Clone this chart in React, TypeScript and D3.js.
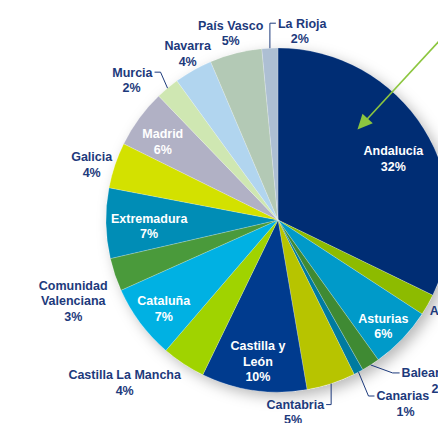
import React from "react";
import * as d3 from "d3";

const regions = ["Andalucía","Aragón","Asturias","Baleares","Canarias","Cantabria","Castilla y León","Castilla La Mancha","Cataluña","Comunidad Valenciana","Extremadura","Galicia","Madrid","Murcia","Navarra","País Vasco","La Rioja"];
const shares = [32.2,2.0,5.9,1.7,0.9,4.6,9.9,4.1,7.0,3.1,6.6,4.3,5.5,2.2,3.6,4.9,1.5];
const pctLabels = ["32%","2%","6%","2%","1%","5%","10%","4%","7%","3%","7%","4%","6%","2%","4%","5%","2%"];
const labelLines = [["Andalucía"],["Aragón"],["Asturias"],["Baleares"],["Canarias"],["Cantabria"],["Castilla y","León"],["Castilla La Mancha"],["Cataluña"],["Comunidad","Valenciana"],["Extremadura"],["Galicia"],["Madrid"],["Murcia"],["Navarra"],["País Vasco"],["La Rioja"]];
const colors = ["#002d74","#8dbb00","#009ac9","#3f8a33","#007b9f","#b7c400","#003b8e","#a0d300","#00b1e3","#4a9a3b","#008db6","#d3e100","#b1b1c5","#cfe7b2","#b1d5ef","#b3c9b5","#adbfd3"];

// label layout: polar radius factor and angle shift (deg), or leader
type Lay = { r: number; da?: number; inside?: boolean; leader?: { ex: number; ey: number; hx: number; anchor: string; pdx: number } };
const layout: Lay[] = [
  { r: 0.76, da: 4, inside: true },
  { r: 1.16, da: 0 },
  { r: 0.87, da: 1.5, inside: true },
  { r: 1, leader: { ex: 22, ey: 8, hx: 7, anchor: "start", pdx: 39 } },
  { r: 1, leader: { ex: 10, ey: 24, hx: 6, anchor: "start", pdx: 29 } },
  { r: 1, leader: { ex: 0, ey: 21, hx: -5, anchor: "end", pdx: -31 } },
  { r: 0.83, da: 0, inside: true },
  { r: 1.3, da: 10 },
  { r: 0.84, da: -1, inside: true },
  { r: 1.28, da: -3 },
  { r: 0.75, da: -1.6, inside: true },
  { r: 1.13, da: -2 },
  { r: 0.81, da: -2, inside: true },
  { r: 1, leader: { ex: -7, ey: -16, hx: -6, anchor: "end", pdx: -21 } },
  { r: 1.1, da: 1 },
  { r: 1.12, da: 0 },
  { r: 1, leader: { ex: 0, ey: -25, hx: 6, anchor: "start", pdx: 22 } },
];

const W = 438, H = 423;
const cx = 278, cy = 220, R = 172;
const textColor = "#1d3a7c";
const fs = 12.5, lh = 15.5;

export default function App() {
  const pie = d3.pie<number>().sort(null).value((d) => d);
  const arcs = pie(shares);
  const arc = d3.arc<d3.PieArcDatum<number>>().innerRadius(0).outerRadius(R);
  const polar = (deg: number, r: number): [number, number] => {
    const a = (deg * Math.PI) / 180;
    return [r * Math.sin(a), -r * Math.cos(a)];
  };
  const [tx, ty] = polar(41.3, R * 0.7);
  const [sx, sy] = polar(42, R * 1.4);
  const ang = Math.atan2(ty - sy, tx - sx);
  const ah = 15, aw = 7;
  const head = [
    [tx, ty],
    [tx - ah * Math.cos(ang) + aw * Math.sin(ang), ty - ah * Math.sin(ang) - aw * Math.cos(ang)],
    [tx - ah * Math.cos(ang) - aw * Math.sin(ang), ty - ah * Math.sin(ang) + aw * Math.cos(ang)],
  ];
  return (
    <svg width={W} height={H} style={{ position: "absolute", left: 0, top: 0 }} fontFamily="'Liberation Sans', Arial, sans-serif" fontWeight="bold" fontSize={fs}>
      <defs>
        <filter id="sh" x="-30%" y="-30%" width="160%" height="160%">
          <feDropShadow dx="5" dy="5" stdDeviation="7" floodColor="#000" floodOpacity="0.28" />
        </filter>
      </defs>
      <rect width={W} height={H} fill="#fff" />
      <g transform={`translate(${cx},${cy})`}>
        <circle r={R} fill="#fff" filter="url(#sh)" />
        {arcs.map((a, i) => (
          <path key={i} d={arc(a) || ""} fill={colors[i]} stroke="#fff" strokeWidth={0.4} strokeOpacity={0.5} />
        ))}
        {arcs.map((a, i) => {
          const L = layout[i];
          const mid = ((a.startAngle + a.endAngle) / 2) * 180 / Math.PI;
          const lines = [...labelLines[i], pctLabels[i]];
          const fill = L.inside ? "#fff" : textColor;
          if (L.leader) {
            const [px, py] = polar(mid, R);
            const ex = px + L.leader.ex, ey = py + L.leader.ey;
            const hx = ex + L.leader.hx;
            const name = labelLines[i][0];
            const anchorStart = L.leader.anchor === "start";
            const tX = hx + (anchorStart ? 2 : -2);
            return (
              <g key={"l" + i}>
                <polyline points={`${px},${py} ${ex},${ey} ${hx},${ey}`} fill="none" stroke={textColor} strokeWidth={1} />
                <text x={tX} y={ey} dy="0.35em" textAnchor={L.leader.anchor} fill={fill}>{name}</text>
                <text x={tX + L.leader.pdx} y={ey + lh} dy="0.35em" textAnchor="middle" fill={fill}>{pctLabels[i]}</text>
              </g>
            );
          }
          const [lx, ly] = polar(mid + (L.da || 0), R * L.r);
          const y0 = ly - ((lines.length - 1) * lh) / 2;
          return (
            <text key={"l" + i} textAnchor="middle" fill={fill}>
              {lines.map((t, j) => (
                <tspan key={j} x={lx} y={y0 + j * lh} dy="0.35em">{t}</tspan>
              ))}
            </text>
          );
        })}
        <line x1={sx} y1={sy} x2={tx - 10 * Math.cos(ang)} y2={ty - 10 * Math.sin(ang)} stroke="#8cc63f" strokeWidth={1.6} />
        <polygon points={head.map((p) => p.join(",")).join(" ")} fill="#8cc63f" />
      </g>
    </svg>
  );
}
